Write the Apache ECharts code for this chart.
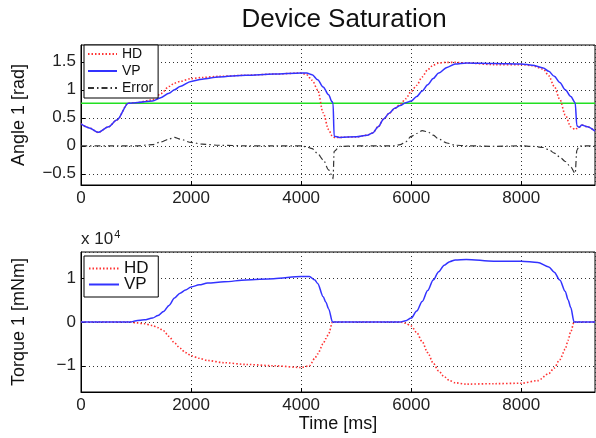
<!DOCTYPE html>
<html>
<head>
<meta charset="utf-8">
<script src="https://cdn.jsdelivr.net/npm/echarts@6/dist/echarts.min.js"></script>
<style>
  html, body { margin: 0; padding: 0; background: #fff; }
  #chart { width: 596px; height: 438px; }
</style>
</head>
<body>
<div id="chart"></div>
<script>
// angle plot (rad)
var angleTime = [0, 150, 310, 500, 650, 860, 1000, 1300, 1450, 1600, 1700, 1800, 2000, 2200, 2500, 3000, 3500, 4000,
  4100, 4200, 4300, 4400, 4500, 4560, 4580, 4600, 4700, 5000, 5200, 5300, 5400, 5500, 5600, 5700, 5800, 5900,
  6000, 6100, 6200, 6300, 6400, 6500, 6650, 6800, 7000, 7500, 8000, 8200, 8400, 8500, 8600, 8700, 8800, 8900,
  8980, 9010, 9050, 9100, 9200, 9340];
var angleHD = [0.39, 0.32, 0.24, 0.34, 0.46, 0.76, 0.77, 0.82, 0.93, 1.06, 1.12, 1.15, 1.20, 1.22, 1.24, 1.26, 1.28, 1.30,
  1.27, 1.17, 1.00, 0.59, 0.29, 0.18, 0.16, 0.15, 0.15, 0.16, 0.19, 0.23, 0.34, 0.48, 0.58, 0.67, 0.74, 0.84,
  0.97, 1.08, 1.23, 1.36, 1.44, 1.48, 1.49, 1.49, 1.48, 1.45, 1.45, 1.43, 1.37, 1.25, 1.06, 0.83, 0.55, 0.34,
  0.29, 0.31, 0.33, 0.37, 0.34, 0.26];
var angleVP = [0.39, 0.32, 0.24, 0.34, 0.46, 0.76, 0.77, 0.80, 0.86, 0.94, 1.00, 1.06, 1.15, 1.19, 1.23, 1.26, 1.28, 1.30,
  1.30, 1.27, 1.18, 1.05, 0.91, 0.79, 0.76, 0.17, 0.15, 0.16, 0.19, 0.23, 0.34, 0.48, 0.58, 0.67, 0.72, 0.77,
  0.80, 0.88, 0.98, 1.09, 1.20, 1.30, 1.40, 1.46, 1.48, 1.47, 1.46, 1.44, 1.39, 1.33, 1.24, 1.13, 1.00, 0.88,
  0.77, 0.36, 0.33, 0.37, 0.34, 0.26];
var angleErr = [0, 0, 0, 0, 0, 0, 0, 0.02, 0.07, 0.12, 0.15, 0.12, 0.06, 0.03, 0.01, 0, 0, 0,
  -0.02, -0.05, -0.14, -0.25, -0.43, -0.53, -0.59, -0.10, -0.01, 0, 0, 0, 0, 0, 0, 0, 0.02, 0.07,
  0.17, 0.22, 0.27, 0.25, 0.19, 0.12, 0.05, 0.01, 0, -0.01, 0, -0.01, -0.03, -0.07, -0.13, -0.20, -0.28, -0.38,
  -0.49, -0.08, -0.01, 0, 0, 0];
var angleLimit = 0.76;

// torque plot (mNm)
var torqueTime = [0, 500, 900, 1000, 1150, 1300, 1400, 1500, 1600, 1700, 1800, 1900, 2000, 2150, 2300, 2600, 3000, 3500,
  4000, 4150, 4250, 4300, 4400, 4450, 4500, 4570, 5000, 5500, 5800, 5900, 6000, 6100, 6200, 6300, 6400, 6500,
  6600, 6700, 6800, 7000, 7500, 8000, 8300, 8500, 8600, 8700, 8800, 8850, 8900, 8960, 9340];
var torqueHD = [0, 0, 0, -200, -400, -800, -1300, -2000, -3300, -4800, -6000, -7000, -7700, -8300, -8800, -9300, -9700, -10000,
  -10400, -10000, -8300, -7300, -5000, -3800, -2700, 0, 0, 0, 0, -300, -900, -2400, -4500, -7000, -9400, -11200,
  -12500, -13400, -13900, -14200, -14100, -14000, -13400, -11800, -10500, -8600, -6200, -4200, -2200, 0, 0];
var torqueVP = [0, 0, 0, 300, 500, 900, 1500, 2400, 3800, 5500, 6600, 7300, 8000, 8500, 8900, 9200, 9600, 9900,
  10400, 10400, 9600, 8800, 5800, 4500, 3000, 0, 0, 0, 0, 300, 900, 2500, 4700, 7200, 9600, 11500,
  13000, 13800, 14200, 14300, 13900, 13900, 13600, 12600, 11400, 9600, 7000, 5100, 3300, 0, 0];

var TIME_MAX = 9340;
var FONT = 'Liberation Sans, Arial, sans-serif';

function pairs(t, v) {
  var out = [];
  for (var i = 0; i < t.length; i++) out.push([t[i], v[i]]);
  return out;
}
function minus(v) {
  return String(v).replace('-', '\u2212');
}

var gridLine = { show: true, lineStyle: { color: '#333', type: [1, 3], width: 1 } };
var tick = { show: true, inside: true, length: 4, lineStyle: { color: '#000' } };
var line = { show: true, onZero: false, lineStyle: { color: '#000', width: 1 } };
var label = { color: '#222', fontSize: 17, fontFamily: FONT, margin: 5 };
var nameStyle = { fontSize: 18, color: '#111', fontFamily: FONT };

function xAxis(idx, name) {
  return {
    type: 'value', gridIndex: idx, min: 0, max: TIME_MAX,
    splitNumber: 5, minInterval: 2000, maxInterval: 2000,
    name: name, nameLocation: 'middle', nameGap: 22, nameTextStyle: nameStyle,
    axisLine: line, axisTick: tick, splitLine: gridLine,
    axisLabel: Object.assign({ showMaxLabel: false, formatter: function (v) { return String(v); } }, label)
  };
}

var chart = echarts.init(document.getElementById('chart'));
chart.setOption({
  animation: false,
  backgroundColor: '#fff',
  title: {
    text: 'Device Saturation', left: 339, top: 2, textAlign: 'center',
    textStyle: { fontSize: 26, fontWeight: 'normal', color: '#111', fontFamily: FONT }
  },
  grid: [
    { left: 81, right: 1, top: 45, height: 140, show: true, borderColor: '#000', borderWidth: 1 },
    { left: 81, right: 1, top: 252, height: 140, show: true, borderColor: '#000', borderWidth: 1 }
  ],
  xAxis: [xAxis(0, ''), xAxis(1, 'Time [ms]')],
  yAxis: [
    {
      type: 'value', gridIndex: 0, min: -0.7, max: 1.8,
      splitNumber: 5, minInterval: 0.5, maxInterval: 0.5,
      name: 'Angle 1 [rad]', nameLocation: 'middle', nameGap: 53, nameTextStyle: nameStyle,
      axisLine: line, axisTick: tick, splitLine: gridLine,
      axisLabel: Object.assign({ showMinLabel: false, showMaxLabel: false, formatter: minus }, label)
    },
    {
      type: 'value', gridIndex: 1, min: -16000, max: 16000,
      splitNumber: 3, minInterval: 10000, maxInterval: 10000,
      name: 'Torque 1 [mNm]', nameLocation: 'middle', nameGap: 53, nameTextStyle: nameStyle,
      axisLine: line, axisTick: tick, splitLine: gridLine,
      axisLabel: Object.assign({ showMinLabel: false, showMaxLabel: false,
        formatter: function (v) { return minus(v / 10000); } }, label)
    }
  ],
  legend: [
    {
      data: ['HD', 'VP', 'Error'], orient: 'vertical', left: 84, top: 45,
      backgroundColor: '#fff', borderColor: '#000', borderWidth: 1,
      padding: [2, 5, 3, 3], itemGap: 3, itemWidth: 29, itemHeight: 14,
      itemStyle: { opacity: 0 },
      textStyle: { fontSize: 14, color: '#111', fontFamily: FONT }
    },
    {
      data: ['HD ', 'VP '], orient: 'vertical', left: 84, top: 256,
      backgroundColor: '#fff', borderColor: '#000', borderWidth: 1,
      padding: [4, 5, 4, 4], itemGap: -1, itemWidth: 30, itemHeight: 16,
      itemStyle: { opacity: 0 },
      textStyle: { fontSize: 17, color: '#111', fontFamily: FONT }
    }
  ],
  graphic: [{
    type: 'text', left: 81, top: 229,
    style: {
      text: 'x 10{sup|4}', fill: '#222', fontSize: 17, fontFamily: FONT,
      rich: { sup: { fontSize: 11, verticalAlign: 'top', padding: [0, 0, 10, 1] } }
    }
  }],
  series: [
    {
      name: 'limit', type: 'line', xAxisIndex: 0, yAxisIndex: 0, symbol: 'none', silent: true,
      data: pairs([0, TIME_MAX], [angleLimit, angleLimit]),
      lineStyle: { color: '#22e022', width: 1.5, opacity: 1 }
    },
    {
      name: 'HD', type: 'line', xAxisIndex: 0, yAxisIndex: 0, symbol: 'none',
      smooth: 0.3, smoothMonotone: 'x', data: pairs(angleTime, angleHD),
      lineStyle: { color: '#ff3333', width: 1.6, type: [1.5, 2] }, itemStyle: { color: '#ff3333' }
    },
    {
      name: 'VP', type: 'line', xAxisIndex: 0, yAxisIndex: 0, symbol: 'none',
      smooth: 0.3, smoothMonotone: 'x', data: pairs(angleTime, angleVP),
      lineStyle: { color: '#3333ff', width: 1.5 }, itemStyle: { color: '#3333ff' }
    },
    {
      name: 'Error', type: 'line', xAxisIndex: 0, yAxisIndex: 0, symbol: 'none',
      smooth: 0.3, smoothMonotone: 'x', data: pairs(angleTime, angleErr),
      lineStyle: { color: '#333', width: 1.2, type: [6, 3, 1.5, 3] }, itemStyle: { color: '#333' }
    },
    {
      name: 'HD ', type: 'line', xAxisIndex: 1, yAxisIndex: 1, symbol: 'none',
      smooth: 0.3, smoothMonotone: 'x', data: pairs(torqueTime, torqueHD),
      lineStyle: { color: '#ff3333', width: 1.6, type: [1.5, 2] }, itemStyle: { color: '#ff3333' }
    },
    {
      name: 'VP ', type: 'line', xAxisIndex: 1, yAxisIndex: 1, symbol: 'none',
      smooth: 0.3, smoothMonotone: 'x', data: pairs(torqueTime, torqueVP),
      lineStyle: { color: '#3333ff', width: 1.5 }, itemStyle: { color: '#3333ff' }
    }
  ]
});
</script>
</body>
</html>
